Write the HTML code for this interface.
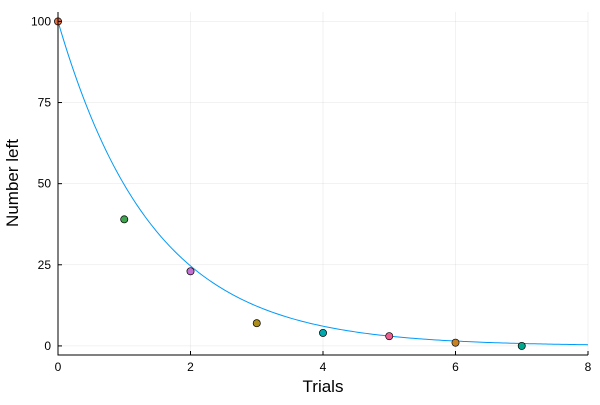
<!DOCTYPE html>
<html><head><meta charset="utf-8"><style>
body{margin:0;background:#fff;width:600px;height:400px;overflow:hidden}
svg{font-family:"Liberation Sans",sans-serif}
</style></head><body>
<svg id="chart" width="600" height="400">
<g id="grid"></g>
<g id="curve"></g>
<g id="points"></g>
<g id="axes"></g>
<text x="323" y="392" text-anchor="middle" font-size="17">Trials</text>
<text transform="translate(18,183) rotate(-90)" text-anchor="middle" font-size="17">Number left</text>
</svg>
<script>
const trials=[0,1,2,3,4,5,6,7];
const numberLeft=[100,39,23,7,4,3,1,0];
const pointColors=["#E36F47","#3EA44E","#C371D2","#AC8E18","#00A9AD","#ED5E93","#C68225","#00A98D"];
const xTicks=[0,2,4,6,8];
const yTicks=[0,25,50,75,100];
const decayRate=0.7;
const NS="http://www.w3.org/2000/svg";
const X0=58,X1=588,Y0=355,Y1=12;
const xMin=0,xMax=8,yMin=-2.8,yMax=102.9;
const sx=v=>X0+(v-xMin)/(xMax-xMin)*(X1-X0);
const sy=v=>Y0-(v-yMin)/(yMax-yMin)*(Y0-Y1);
function mk(tag,attrs,parent){const e=document.createElementNS(NS,tag);for(const k in attrs)e.setAttribute(k,attrs[k]);parent.appendChild(e);return e;}
const grid=document.getElementById('grid'),axes=document.getElementById('axes');
xTicks.forEach(t=>{
 const l=mk('line',{x1:sx(t),x2:sx(t),y1:Y1,y2:Y0,stroke:'#000','stroke-opacity':0.1,'stroke-width':0.5},grid);
 
 
 const tk=mk('line',{x1:sx(t),x2:sx(t),y1:Y0,y2:Y0-4,stroke:'#000','stroke-width':1},axes);
 
 
 const tx=mk('text',{x:sx(t),y:Y0+16,'text-anchor':'middle','font-size':12},axes);
 tx.textContent=t;
 
 
});
yTicks.forEach(t=>{
 const l=mk('line',{x1:X0,x2:X1,y1:sy(t),y2:sy(t),stroke:'#000','stroke-opacity':0.1,'stroke-width':0.5},grid);
 
 
 const tk=mk('line',{x1:X0,x2:X0+4,y1:sy(t),y2:sy(t),stroke:'#000','stroke-width':1},axes);
 
 
 const tx=mk('text',{x:X0-7,y:sy(t)+4,'text-anchor':'end','font-size':12},axes);
 tx.textContent=t;
 
 
});
const ax=mk('path',{d:`M${X0},${Y1}V${Y0}H${X1}`,fill:'none',stroke:'#000','stroke-width':1},axes);


let d='';for(let i=0;i<=200;i++){const x=xMin+(xMax-xMin)*i/200;d+=(i?'L':'M')+sx(x).toFixed(2)+','+sy(numberLeft[0]*Math.exp(-decayRate*x)).toFixed(2);}
const c=mk('path',{d:d,fill:'none',stroke:'#009AFA','stroke-width':1},document.getElementById('curve'));


const pts=document.getElementById('points');
trials.forEach((t,i)=>{
 const p=mk('circle',{cx:sx(t),cy:sy(numberLeft[i]),r:3.6,fill:pointColors[i],stroke:'#000','stroke-width':0.7},pts);
 
 
});
</script>
</body></html>
